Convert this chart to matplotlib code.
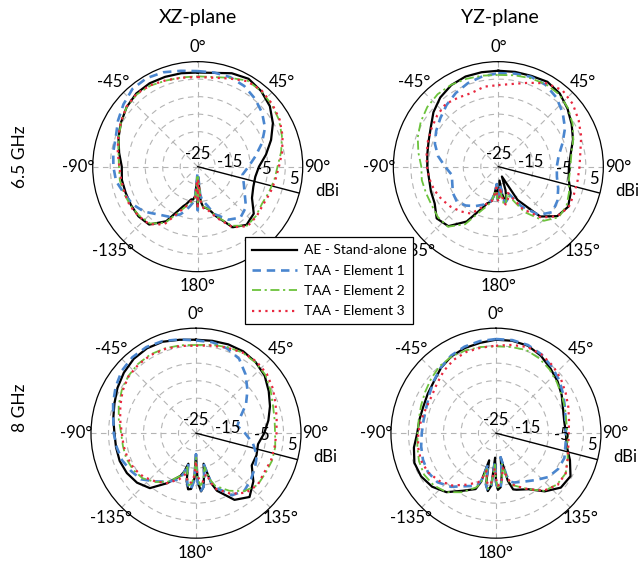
import numpy as np
import matplotlib.pyplot as plt

plt.rcParams['font.family'] = ['Lato', 'DejaVu Sans']

# angles in degrees, clockwise from broadside (0 at top)
angles = [0, 10, 20, 30, 40, 50, 60, 70, 80, 90, 100, 110, 120, 130, 140, 150,
          160, 163, 166, 169, 172, 175, 178, 180, 182, 185, 188, 191, 194, 197, 200,
          210, 220, 230, 240, 250, 260, 270, 280, 290, 300, 310, 320, 330, 340, 350]

# XZ-plane, 6.5 GHz (dBi)
xz65_ae = [1.9, 2.2, 3.4, 4.0, 3.2, 1.9, -0.2, -2.7, -5.2, -7.5, -8.3, -8.1, -7.1, -4.1, -3.3, -5.0,
           -10.0, -11.5, -12.5, -13.0, -13.2, -15.0, -22.0, -13.0, -22.0, -16.5, -15.5, -15.5, -14.8, -13.8, -13.0,
           -7.0, -3.4, -2.9, -3.0, -3.1, -3.0, -3.3, -2.2, -0.9, 0.3, 1.5, 2.3, 2.5, 2.3, 2.1]
xz65_e1 = [2.3, 2.3, 2.2, 1.6, 0.4, -1.0, -2.8, -5.5, -8.3, -10.5, -12.0, -11.0, -9.5, -7.0, -6.0, -7.5,
           -10.5, -12.0, -13.5, -14.5, -15.0, -17.0, -23.0, -12.5, -23.0, -16.0, -14.5, -13.5, -12.5, -11.5, -10.5,
           -8.5, -7.2, -5.0, -3.5, -2.6, -1.3, -0.9, -0.5, -0.1, 1.3, 2.7, 4.0, 4.2, 3.7, 2.8]
xz65_e2 = [0.8, 1.0, 2.0, 3.4, 3.2, 2.6, 1.8, 0.6, -0.8, -2.2, -2.8, -3.4, -3.8, -3.2, -3.0, -5.5,
           -10.0, -11.5, -12.5, -13.0, -13.5, -15.5, -22.0, -13.5, -22.0, -16.0, -15.0, -14.5, -14.0, -13.0, -12.0,
           -6.5, -3.8, -3.2, -2.8, -2.6, -2.4, -2.5, -2.0, -1.0, 0.3, 1.5, 2.0, 1.8, 1.2, 0.9]
xz65_e3 = [0.6, 0.8, 1.8, 3.2, 3.4, 2.8, 2.0, 0.8, -0.5, -1.8, -2.5, -3.0, -3.4, -3.0, -2.8, -5.0,
           -9.5, -11.0, -12.0, -12.8, -13.0, -15.0, -21.0, -13.0, -21.0, -16.0, -15.5, -15.0, -14.0, -13.0, -12.0,
           -6.0, -3.5, -3.0, -2.6, -2.8, -2.8, -2.6, -1.8, -0.8, 0.4, 1.6, 2.2, 1.9, 1.3, 0.8]

# YZ-plane, 6.5 GHz
yz65_ae = [2.4, 2.5, 2.6, 3.0, 2.3, 0.8, -0.8, -2.3, -4.0, -4.8, -4.6, -3.0, -2.0, -3.0, -6.4, -14.0,
           -22.0, -18.0, -15.5, -15.3, -17.0, -21.0, -17.0, -16.0, -17.0, -20.0, -17.0, -15.0, -14.5, -14.0, -12.8,
           -6.9, -2.8, -2.0, -4.0, -4.5, -4.9, -4.7, -4.4, -3.8, -2.7, -0.8, 0.8, 1.9, 2.4, 2.4]
yz65_e1 = [1.7, 2.0, 2.3, 2.0, 0.8, -1.0, -3.0, -5.5, -7.5, -8.3, -8.0, -6.8, -5.5, -4.8, -7.0, -12.0,
           -17.0, -16.0, -15.0, -14.5, -16.0, -20.0, -16.0, -15.0, -16.0, -20.0, -17.0, -15.5, -14.5, -14.0, -13.5,
           -12.0, -10.5, -9.5, -10.0, -11.0, -11.5, -9.8, -7.5, -5.7, -4.5, -3.4, -2.0, -0.7, 0.4, 1.2]
yz65_e2 = [1.2, 1.5, 1.9, 2.2, 2.0, 1.0, -0.5, -2.2, -3.8, -4.4, -4.5, -3.5, -2.5, -2.5, -4.8, -10.0,
           -16.0, -17.0, -15.5, -14.0, -14.5, -18.0, -16.0, -15.0, -16.0, -19.0, -17.0, -15.0, -14.0, -13.0, -12.0,
           -6.0, -2.6, -2.5, -3.0, -3.0, -2.8, -3.0, -1.8, -0.5, 0.6, 1.5, 2.0, 2.0, 1.7, 1.4]
yz65_e3 = [-1.7, -1.0, 0.5, 2.5, 3.5, 2.8, 1.5, 0.2, -1.2, -1.8, -2.0, -2.0, -1.8, -3.0, -6.0, -11.0,
           -17.0, -15.5, -14.5, -14.0, -15.0, -19.0, -16.0, -15.0, -16.0, -19.0, -16.5, -15.0, -14.5, -14.0, -13.0,
           -9.5, -8.3, -7.2, -6.3, -5.5, -5.0, -4.6, -4.2, -3.6, -3.0, -2.2, -1.6, -2.2, -2.6, -1.8]

# XZ-plane, 8 GHz
xz8_ae = [1.7, 1.8, 2.0, 2.0, 1.5, 0.6, -1.0, -2.5, -4.0, -5.5, -7.0, -6.6, -6.6, -3.6, -1.2, -3.0,
          -7.5, -10.0, -16.0, -13.0, -9.5, -8.3, -11.0, -19.0, -12.0, -9.0, -8.8, -11.0, -16.0, -13.5, -12.0,
          -8.5, -4.5, -3.0, -2.2, -1.8, -1.8, -1.7, -1.0, -0.2, 0.9, 1.9, 2.7, 3.0, 2.8, 2.1]
xz8_e1 = [1.5, 1.4, 0.8, -0.4, -3.0, -5.8, -8.5, -11.5, -13.0, -11.0, -8.5, -6.5, -5.5, -4.5, -3.5, -4.5,
          -8.5, -10.5, -16.0, -12.5, -9.5, -8.5, -11.0, -19.0, -11.5, -9.0, -9.0, -11.5, -16.0, -13.0, -11.0,
          -9.0, -7.0, -4.5, -3.5, -2.5, -2.0, -1.5, -1.0, 0.2, 1.5, 2.7, 3.3, 3.4, 3.0, 2.2]
xz8_e2 = [0.2, 0.6, 1.2, 1.6, 1.4, 0.9, -0.4, -1.6, -2.2, -2.4, -2.0, -1.9, -2.1, -2.0, -3.4, -6.0,
          -9.0, -11.0, -15.0, -13.0, -11.0, -10.0, -12.0, -18.0, -13.0, -10.5, -10.0, -12.0, -15.0, -13.0, -12.0,
          -9.0, -6.8, -5.0, -4.2, -3.8, -3.8, -3.6, -2.6, -1.5, -0.5, 0.3, 0.8, 1.0, 0.8, 0.5]
xz8_e3 = [0.0, 0.4, 1.0, 1.6, 1.8, 1.4, 0.4, -0.8, -1.6, -2.0, -2.2, -2.2, -2.5, -2.0, -2.8, -5.0,
          -8.0, -10.0, -13.0, -12.0, -11.0, -11.0, -13.0, -17.0, -13.0, -11.0, -10.5, -11.5, -13.0, -12.0, -11.0,
          -8.5, -7.0, -5.5, -4.6, -4.2, -4.0, -3.8, -3.0, -2.0, -0.8, 0.2, 0.6, 0.8, 0.6, 0.3]

# YZ-plane, 8 GHz
yz8_ae = [1.7, 1.8, 1.6, 0.6, -0.8, -2.0, -3.3, -4.6, -5.2, -5.0, -4.5, -2.5, -0.4, -0.8, -3.3, -6.5,
          -7.8, -8.2, -11.0, -18.0, -13.0, -9.5, -8.8, -11.0, -18.0, -10.0, -8.3, -10.0, -17.0, -10.5, -8.0,
          -6.0, -3.0, -1.2, -0.3, -0.2, -1.2, -2.5, -2.8, -2.9, -2.5, -1.9, -0.6, 0.4, 0.9, 1.2]
yz8_e1 = [1.9, 2.0, 1.8, 1.0, -0.2, -1.4, -2.8, -4.0, -4.8, -5.0, -4.8, -4.2, -4.5, -5.5, -7.5, -9.0,
          -10.0, -10.5, -12.5, -18.0, -12.5, -9.5, -9.0, -11.0, -17.0, -10.0, -8.5, -10.0, -16.0, -11.0, -9.0,
          -7.5, -5.0, -3.2, -2.6, -2.8, -3.3, -3.8, -4.0, -3.8, -3.0, -1.8, -0.5, 0.6, 1.3, 1.7]
yz8_e2 = [-0.2, 0.0, 0.3, -0.3, -1.2, -2.3, -3.3, -4.0, -4.6, -4.6, -4.2, -3.2, -2.0, -2.2, -3.5, -6.5,
          -9.0, -9.5, -11.5, -16.0, -12.0, -10.0, -9.5, -11.5, -16.0, -10.5, -9.0, -10.5, -15.0, -10.0, -8.5,
          -5.5, -3.0, -1.8, -1.3, -1.6, -2.2, -2.6, -2.6, -2.2, -1.6, -0.8, 0.0, 0.3, 0.2, 0.0]
yz8_e3 = [0.0, 0.6, 1.2, 1.0, 0.2, -0.8, -2.0, -3.0, -3.8, -4.2, -4.0, -3.2, -2.0, -2.0, -3.6, -6.5,
          -9.0, -10.0, -12.0, -15.0, -12.0, -10.5, -10.0, -12.0, -15.0, -11.0, -10.0, -11.0, -14.0, -11.5, -10.0,
          -8.0, -5.5, -3.8, -2.6, -2.2, -2.4, -2.8, -3.3, -3.8, -3.8, -3.0, -1.8, -0.8, -0.3, -0.2]

labels = ['AE - Stand-alone', 'TAA - Element 1', 'TAA - Element 2', 'TAA - Element 3']
theta_labels = ['0°', '45°', '90°', '135°', '180°', '-135°', '-90°', '-45°']
r_labels = ['-25', '-15', '-5', '5']

colors = ['black', '#4a86cf', '#6cc33c', '#e8283f']
styles = [dict(ls='-', lw=1.6),
          dict(ls=(0, (3.2, 2.2)), lw=1.9),
          dict(ls=(0, (5, 2, 1.2, 2)), lw=1.3),
          dict(ls=(0, (1, 2)), lw=1.6)]

panels = [
    ([0.1442, 0.5175, 0.3266, 0.373], [xz65_ae, xz65_e1, xz65_e2, xz65_e3]),
    ([0.6117, 0.5175, 0.3266, 0.373], [yz65_ae, yz65_e1, yz65_e2, yz65_e3]),
    ([0.1415, 0.0441, 0.3266, 0.373], [xz8_ae, xz8_e1, xz8_e2, xz8_e3]),
    ([0.6080, 0.0441, 0.3266, 0.373], [yz8_ae, yz8_e1, yz8_e2, yz8_e3]),
]

fig = plt.figure(figsize=(6.43, 5.63), dpi=100)

th = np.deg2rad(np.append(angles, 360))
handles = []
for rect, series in panels:
    ax = fig.add_axes(rect, projection='polar')
    ax.set_theta_zero_location('N')
    ax.set_theta_direction(-1)
    ax.set_ylim(-25, 5)
    ax.set_yticks([-20, -15, -10, -5, 0])
    ax.set_yticklabels([])
    ax.set_thetagrids(np.arange(0, 360, 45), theta_labels, fontsize=12)
    ax.tick_params(axis='x', pad=0)
    ax.grid(True, color='#b4b4b4', ls=(0, (5, 4)), lw=0.8)
    ax.spines['polar'].set_linewidth(0.9)

    # radial axis line
    ang = np.deg2rad(104.6)
    ax.plot([ang, ang], [-25, 5], color='black', lw=1.0)
    for (x, y), t in zip([(0.5, 0.562), (0.652, 0.524), (0.814, 0.49), (0.957, 0.443)], r_labels):
        ax.text(x, y, t, transform=ax.transAxes, ha='center', va='center', fontsize=12)
    ax.text(1.115, 0.385, 'dBi', transform=ax.transAxes, ha='center', va='center', fontsize=12)

    handles = []
    for vals, c, st, lab in zip(series, colors, styles, labels):
        h, = ax.plot(th, np.append(vals, vals[0]), color=c, label=lab, **st)
        handles.append(h)

fig.text(198 / 643, 1 - 18 / 563, 'XZ-plane', ha='center', va='center', fontsize=14)
fig.text(500 / 643, 1 - 18 / 563, 'YZ-plane', ha='center', va='center', fontsize=14)
fig.text(20 / 643, 1 - 157 / 563, '6.5 GHz', ha='center', va='center', rotation=90, fontsize=12.5)
fig.text(20 / 643, 1 - 408 / 563, '8 GHz', ha='center', va='center', rotation=90, fontsize=12.5)

# legend sits over the TR "-135°" label, as in the original
leg = fig.legend(handles, labels, loc='center', bbox_to_anchor=(0.512, 0.501),
                 fontsize=10, frameon=True, fancybox=False, framealpha=1,
                 edgecolor='black', labelspacing=0.6, handlelength=3.2,
                 handletextpad=0.5, borderpad=0.5, borderaxespad=0)
leg.set_zorder(10)
leg.get_frame().set_linewidth(0.9)

fig.savefig('out.png', dpi=100)
